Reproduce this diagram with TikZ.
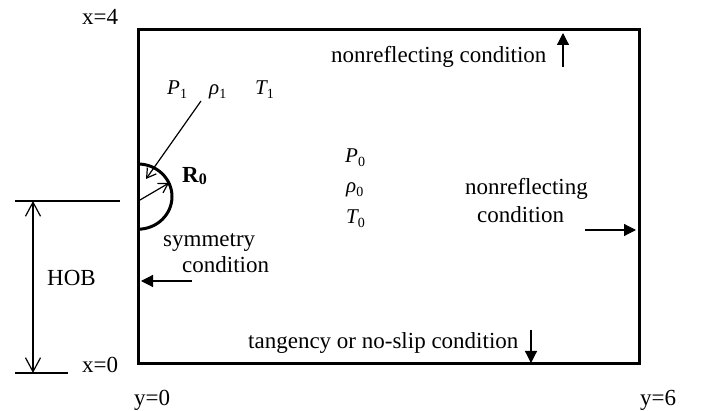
\documentclass[tikz,border=0pt]{standalone}
\usepackage{fontspec}
\setmainfont{Liberation Serif}
\usetikzlibrary{arrows.meta}
\newcommand\qsym[2]{{\fontsize{21}{21}\selectfont\itshape #1}\raisebox{-3.5pt}{\fontsize{14}{14}\selectfont #2}}
\begin{document}
\begin{tikzpicture}[x=1pt,y=-1pt,
  lbl/.style={font=\fontsize{23}{26}\selectfont, inner sep=0pt, anchor=base west},
  boxline/.style={line width=3pt},
  thinline/.style={line width=1.2pt},
  openarrow/.style={thinline, -{Straight Barb[length=9pt,width=11pt]}},
  dimarrow/.style={thinline, {Straight Barb[length=14pt,width=15pt]}-{Straight Barb[length=14pt,width=15pt]}},
  solidarrow/.style={thinline, -{Triangle[length=12pt,width=12pt]}}]
\useasboundingbox (0,0) rectangle (705,411);
% domain
\draw[boxline] (138,30) rectangle (639,364);
% charge (semicircle)
\draw[boxline] (138,164) arc[start angle=-90, end angle=90, x radius=34, y radius=32.6];
% inner arrows
\coordinate (p1tail) at (201,101);
\coordinate (p1tip) at (146,179);
\coordinate (rtail) at (140,200);
\coordinate (rtip) at (169,183);
\draw[openarrow] (p1tail) -- (p1tip);
\draw[openarrow] (rtail) -- (rtip);
% labels
\node[lbl] (x4) at (82,25) {x=4};
\node[lbl] (x0) at (82,373) {x=0};
\node[lbl] (y0) at (134,406) {y=0};
\node[lbl] (y6) at (640,406) {y=6};
\node[lbl] (topc) at (331,63) {nonreflecting condition};
\node[lbl] (rc1) at (465,195) {nonreflecting};
\node[lbl] (rc2) at (477,223) {condition};
\node[lbl] (sc1) at (163,247) {symmetry};
\node[lbl] (sc2) at (182,273) {condition};
\node[lbl] (botc) at (248,349) {tangency or no-slip condition};
\node[lbl] (hob) at (47,286) {HOB};
\node[lbl] (r0) at (182,183) {\fontsize{23}{23}\selectfont\bfseries R\raisebox{-1.5pt}{\fontsize{16}{16}\selectfont 0}};
\node[lbl] (P1) at (167,95) {\qsym{P}{1}};
\node[lbl] (rho1) at (209,95) {\qsym{ρ}{1}};
\node[lbl] (T1) at (255,95) {\qsym{T}{1}};
\node[lbl] (P0) at (345,163) {\qsym{P}{0}};
\node[lbl] (rho0) at (346,193) {\qsym{ρ}{0}};
\node[lbl] (T0) at (346,224) {\qsym{T}{0}};
% boundary condition arrows
\coordinate (upA) at (563,67);
\coordinate (upB) at (563,33);
\draw[solidarrow] (upA) -- (upB);
\coordinate (rtA) at (585,230);
\coordinate (rtB) at (636,230);
\draw[solidarrow] (rtA) -- (rtB);
\coordinate (lfA) at (192,281);
\coordinate (lfB) at (141,281);
\draw[solidarrow] (lfA) -- (lfB);
\coordinate (dnA) at (531,330);
\coordinate (dnB) at (531,363);
\draw[solidarrow] (dnA) -- (dnB);
% HOB dimension
\coordinate (h1a) at (15,201);
\coordinate (h1b) at (120,201);
\coordinate (h0a) at (15,373);
\coordinate (h0b) at (68,373);
\draw[thinline] (h1a) -- (h1b);
\draw[thinline] (h0a) -- (h0b);
\coordinate (dtop) at (33,201);
\coordinate (dbot) at (33,373);
\draw[dimarrow] (dtop) -- (dbot);
\end{tikzpicture}
\end{document}
